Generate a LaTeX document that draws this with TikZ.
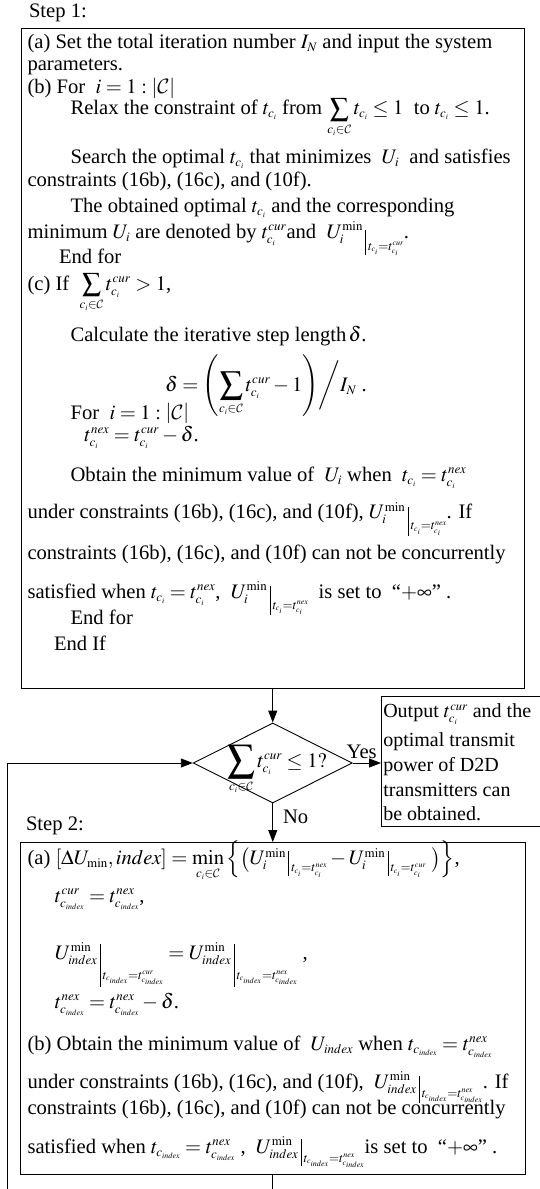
\documentclass[tikz,border=0pt]{standalone}
\usepackage{graphicx}
\usepackage{mathptmx}
\DeclareMathAlphabet{\mathcal}{OMS}{cmsy}{m}{n}
\DeclareMathSizes{20.6}{20.6}{13}{8}
\DeclareMathSizes{20}{20}{12.6}{8}
\usepackage{fontspec}
\setmainfont{Liberation Serif}
\usetikzlibrary{arrows.meta,shapes.geometric}
% evaluation bar: #1 height above baseline, #2 depth below, #3 lowering of the subscript, #4 subscript
\newcommand{\ev}[4]{\,\rule[-#2pt]{0.7pt}{\dimexpr#1pt+#2pt\relax}\,\smash{\raisebox{-#3pt}{$\scriptstyle #4$}}}
\newcommand{\Sum}[1]{\mathop{\vcenter{\hbox{\scalebox{#1}{$\sum$}}}}\limits}
\tikzset{
  txt/.style={anchor=base west, inner sep=0pt, outer sep=0pt, font=\fontsize{20.6}{24}\selectfont},
  otxt/.style={txt, font=\fontsize{20}{24}\selectfont},
  box/.style={draw, line width=0.9pt, inner sep=0pt, outer sep=0pt, anchor=north west},
  conn/.style={line width=0.9pt},
  arr/.style={conn, -{Triangle[length=12pt,width=9pt]}},
}
\begin{document}
\begin{tikzpicture}[x=1pt,y=-1pt]
\useasboundingbox (0,0) rectangle (540,1189);
% Step 1
\node[txt] (s1) at (29,17) {Step 1:};
\node[box, minimum width=503.5pt, minimum height=660pt] (box1) at (21,28) {};
\node[txt] (a1) at (27.5,48) {(a) Set the total iteration number $I_N$ and input the system};
\node[txt] (a2) at (27.5,70.5) {parameters.};
\node[txt] (b1) at (27.5,93.5) {(b) For \ $i=1:\left|\mathcal{C}\right|$};
\node[txt] (b2) at (70.6,114.7) {Relax the constraint of $t_{c_i}$ from $\Sum{1.3}_{c_i\in\mathcal{C}}t_{c_i}\le 1$ \ to $t_{c_i}\le 1$.};
\node[txt] (b3) at (70.6,163.6) {Search the optimal $t_{c_i}$ that minimizes \ $U_i$ \ and satisfies};
\node[txt] (b4) at (27.5,186) {constraints (16b), (16c), and (10f).};
\node[txt] (b5) at (70.6,212) {The obtained optimal $t_{c_i}$ and the corresponding};
\node[txt] (b6) at (27.5,238) {minimum $U_i$ are denoted by $t_{c_i}^{cur}$and \ $U_i^{\min}\ev{8}{17}{12}{t_{c_i}=t_{c_i}^{cur}}$.};
\node[txt] (b7) at (59,263.7) {End for};
\node[txt] (c1) at (27.5,290) {(c) If \ $\Sum{1.3}_{c_i\in\mathcal{C}}t_{c_i}^{cur}>1$,};
\node[txt] (c2) at (70.6,341) {Calculate the iterative step length$\,\delta$.};
\node[txt] (c3) at (165,391) {$\delta=\left(\Sum{1.6}_{c_i\in\mathcal{C}}t_{c_i}^{cur}-1\right)\!\bigg/I_N$ .};
\node[txt] (c4) at (70.6,419) {For \ $i=1:\left|\mathcal{C}\right|$};
\node[txt] (c5) at (84.4,441.3) {$t_{c_i}^{nex}=t_{c_i}^{cur}-\delta$.};
\node[txt] (c6) at (70.6,481) {Obtain the minimum value of \ $U_i$ when \ $t_{c_i}=t_{c_i}^{nex}$};
\node[txt] (c7) at (27.5,518.8) {under constraints (16b), (16c), and (10f), $U_i^{\min}\ev{12}{17}{11}{t_{c_i}=t_{c_i}^{nex}}$. If};
\node[txt] (c8) at (27.5,559) {constraints (16b), (16c), and (10f) can not be concurrently};
\node[txt] (c9) at (27.5,598) {satisfied when $t_{c_i}=t_{c_i}^{nex}$, \ $U_i^{\min}\ev{12}{17}{11}{t_{c_i}=t_{c_i}^{nex}}$ \ is set to \ “$+\infty$” .};
\node[txt] (c10) at (70.6,624) {End for};
\node[txt] (c11) at (54,650) {End If};
% decision
\node[draw, diamond, line width=0.9pt, minimum width=159pt, minimum height=80pt, inner sep=0pt] (dec) at (272.75,763) {};
\node[txt, anchor=base] (dect) at (277,767) {$\Sum{1.9}_{c_i\in\mathcal{C}}t_{c_i}^{cur}\le 1?$};
\node[txt] (yes) at (346.7,758.3) {Yes};
\node[txt] (no) at (283,823) {No};
% output
\node[box, minimum width=170pt, minimum height=130.7pt] (out) at (381,696) {};
\node[otxt] (o1) at (383.3,717.7) {Output $t_{c_i}^{cur}$ and the};
\node[otxt] (o2) at (383.3,746.7) {optimal transmit};
\node[otxt] (o3) at (383.3,771.7) {power of D2D};
\node[otxt] (o4) at (383.3,796.7) {transmitters can};
\node[otxt] (o5) at (383.3,820.7) {be obtained.};
% Step 2
\node[txt] (s2) at (26,830.7) {Step 2:};
\node[box, minimum width=505pt, minimum height=332pt] (box2) at (20,842) {};
\node[txt] (d1) at (27.5,864.8) {(a) $\left[\Delta U_{\min},index\right]=\min\limits_{c_i\in\mathcal{C}}\Big\{\big(U_i^{\min}\ev{14}{11}{7}{t_{c_i}=t_{c_i}^{nex}}-U_i^{\min}\ev{14}{11}{7}{t_{c_i}=t_{c_i}^{cur}}\ \big)\Big\}$,};
\node[txt] (d2) at (55,902) {$t_{c_{index}}^{cur}=t_{c_{index}}^{nex}$,};
\node[txt] (d3) at (55,959) {$U_{index}^{\min}\ev{15}{28}{20}{t_{c_{index}}=t_{c_{index}}^{cur}}=U_{index}^{\min}\ev{15}{28}{20}{t_{c_{index}}=t_{c_{index}}^{nex}}$ ,};
\node[txt] (d4) at (55,1008) {$t_{c_{index}}^{nex}=t_{c_{index}}^{nex}-\delta$.};
\node[txt] (e1) at (27.5,1050) {(b) Obtain the minimum value of \ $U_{index}$ when $t_{c_{index}}=t_{c_{index}}^{nex}$};
\node[txt] (e2) at (27.5,1088) {under constraints (16b), (16c), and (10f), \ $U_{index}^{\min}\ev{12}{15}{9}{t_{c_{index}}=t_{c_{index}}^{nex}}$. If};
\node[txt] (e3) at (27.5,1114) {constraints (16b), (16c), and (10f) can not be concurrently};
\node[txt] (e4) at (27.5,1153) {satisfied when $t_{c_{index}}=t_{c_{index}}^{nex}$ , \ $U_{index}^{\min}\ev{14}{13}{9}{t_{c_{index}}=t_{c_{index}}^{nex}}$is set to \ “$+\infty$” .};
% connectors
\coordinate (loopbot) at (7.5,1195);
\coordinate (midbot) at (272.5,1195);
\draw[arr] (box1.south) -- (dec.north);
\draw[arr] (dec.east) -- (dec.east -| out.west);
\draw[arr] (dec.south) -- (dec.south |- box2.north);
\draw[conn] (box2.south) -- (midbot);
\draw[arr] (loopbot) |- (dec.west);
\end{tikzpicture}
\end{document}
